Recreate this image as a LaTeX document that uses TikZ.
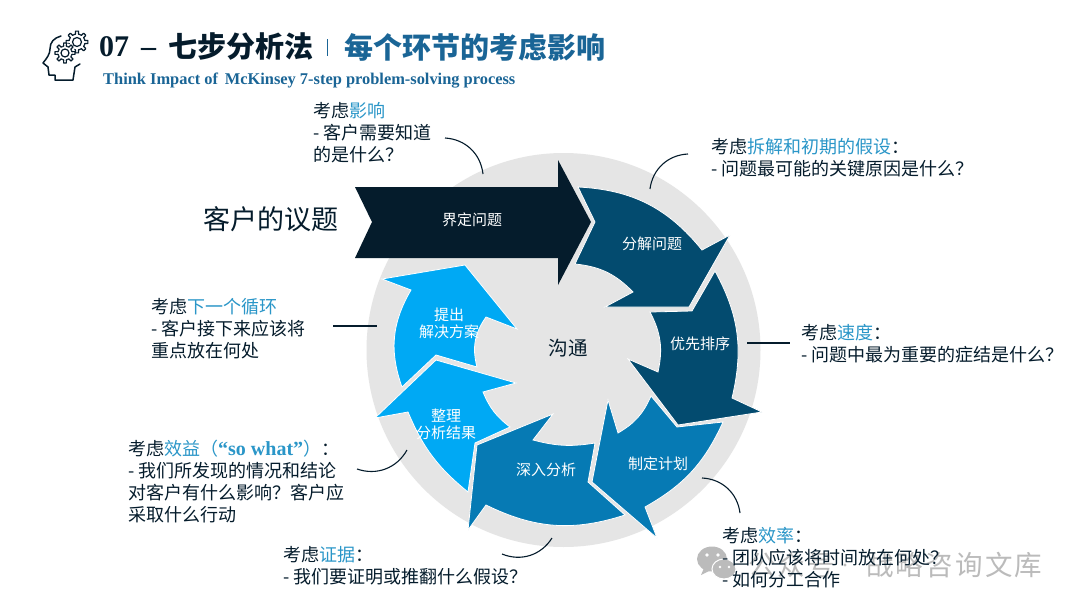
\documentclass[tikz,border=0pt]{standalone}
\usepackage{fontspec}
\setmainfont{Liberation Serif}
\newfontfamily\cjk{Noto Sans CJK SC}
\newfontfamily\markfont[LetterSpace=8]{Noto Sans CJK SC}
\usepackage{xcolor}
\definecolor{deepnavy}{HTML}{051C2C}
\definecolor{navyblue}{HTML}{034B6F}
\definecolor{midblue}{HTML}{067AB4}
\definecolor{skyblue}{HTML}{00A9F4}
\definecolor{ringgray}{HTML}{E5E5E5}
\definecolor{titleblue}{HTML}{1A6596}
\definecolor{hlblue}{HTML}{2A96C8}
\definecolor{markgray}{HTML}{BBBBBB}
\tikzset{
  stepshape/.style={draw=white,line width=.8pt},
  steptext/.style={text=white,font=\cjk\fontsize{15}{17}\selectfont,align=center,inner sep=0pt},
  asktext/.style={anchor=west,align=left,text=deepnavy,inner sep=0pt,font=\cjk\fontsize{18}{22}\selectfont},
  askline/.style={draw=deepnavy,line width=1.1pt},
  iconline/.style={draw=deepnavy,line width=1.5pt,line join=round},
  marktext/.style={anchor=west,text=markgray,inner sep=0pt,font=\markfont\fontsize{27.5}{30}\selectfont},
}
\newcommand{\hl}[1]{\textcolor{hlblue}{#1}}
\begin{document}
\begin{tikzpicture}[x=1pt,y=-1pt]
\useasboundingbox (0,0) rectangle (1080,608);
\fill[white] (0,0) rectangle (1080,608);
\fill[ringgray] (563.5,350) circle (197);
% steps
\draw[stepshape,fill=skyblue] (402,387) to[bend left=25] (411,290) -- (382,279) -- (465,265) -- (517,329) -- (486,317) to[bend right=25] (477,367) -- (436,355) -- cycle;
\draw[stepshape,fill=skyblue] (468,492) to[bend left=14] (408,412) -- (375,418) -- (436,360) -- (516,383) -- (483,392) to[bend right=15] (510,427) -- (475,443) -- cycle;
\draw[stepshape,fill=midblue] (486,505) to[bend right=22] (625,515) -- (588,482) -- (595,443) to[bend left=12] (533,440) -- (553,414) -- (477,445) -- (468,530) -- cycle;
\draw[stepshape,fill=midblue] (645,507) to[bend right=18] (723,422) -- (677,427) -- (651,396) to[bend left=18] (618,433) -- (608,400) -- (592,482) -- (657,538) -- cycle;
\draw[stepshape,fill=navyblue] (715,271) to[bend left=21] (732,398) -- (762,412) -- (678,425) -- (628,359) -- (658,372) to[bend right=20] (650,312) -- (692,311) -- cycle;
\draw[stepshape,fill=navyblue] (578,187) to[bend left=24] (702,250) -- (730,235) -- (689,307) -- (605,307) -- (633,292) to[bend right=20] (575,264) -- (595,222) -- cycle;
\fill[deepnavy] (355,187) -- (558,187) -- (558,160) -- (591,222) -- (558,285) -- (558,258) -- (355,258) -- (372,222) -- cycle;
\node[steptext] (define) at (472,220) {界定问题};
\node[steptext] (split) at (652,244) {分解问题};
\node[steptext] (rank) at (700,344) {优先排序};
\node[steptext] (plan) at (658,464) {制定计划};
\node[steptext] (analyse) at (546,470) {深入分析};
\node[steptext] (sort) at (446,424) {整理\\分析结果};
\node[steptext] (solve) at (449,323) {提出\\解决方案};
\node[text=deepnavy,font=\cjk\fontsize{19.5}{22}\selectfont,inner sep=0pt] (talk) at (568,348) {沟通};
\node[anchor=west,text=deepnavy,font=\cjk\fontsize{27}{30}\selectfont,inner sep=0pt] (issue) at (203,219) {客户的议题};
% icon
\draw[iconline,line cap=round] (61,36) .. controls (54,38) and (50,42) .. (50,49) .. controls (50,54) and (47,58) .. (43,63) -- (48,67) -- (49,75) -- (55,75) -- (55,80) -- (73,80) -- (75,67) -- (80,64);
\begin{scope}[shift={(77,42)}]
\foreach \a in {0,45,...,315}{
\draw[iconline,line width=1.2pt] (\a-22.5:8) -- (\a-11:8) -- (\a-8:11) -- (\a+8:11) -- (\a+11:8) -- (\a+22.5:8);
}
\draw[iconline,line width=1.2pt] (0,0) circle (4.5);
\end{scope}
\begin{scope}[shift={(65,53)}]
\fill[white] (0,0) circle (10);
\foreach \a in {0,45,...,315}{
\draw[iconline,line width=1.2pt] (\a-22.5:7) -- (\a-11:7) -- (\a-8:10) -- (\a+8:10) -- (\a+11:7) -- (\a+22.5:7);
}
\draw[iconline,line width=1.2pt] (0,0) circle (4);
\end{scope}
% title
\node[anchor=west,text=deepnavy,inner sep=0pt,font=\bfseries\fontsize{30}{32}\selectfont] (num) at (99,47) {07\hspace{12pt}–};
\node[anchor=west,text=deepnavy,inner sep=0pt,font=\cjk\bfseries\fontsize{29}{32}\selectfont] (head) at (168,47) {七步分析法};
\draw[titleblue,line width=1pt] (327,39) -- (327,56);
\node[anchor=west,text=titleblue,inner sep=0pt,font=\cjk\bfseries\fontsize{29}{32}\selectfont] (sub) at (344,47) {每个环节的考虑影响};
\node[anchor=west,text=titleblue,inner sep=0pt,font=\bfseries\fontsize{16.4}{18}\selectfont] (eng) at (103,81) {Think Impact of\, McKinsey 7-step problem-solving process};
% mark
\fill[markgray] (712,559) ellipse (15 and 12.5);
\fill[markgray] (704,568) -- (701,575) -- (711,570) -- cycle;
\fill[markgray,draw=white,line width=1pt] (724,569) ellipse (12 and 10);
\fill[white] (707,555) circle (1.8) (718,555) circle (1.8) (720,567) circle (1.4) (729,567) circle (1.4);
\node[marktext] (markA) at (748,565) {公众号};
\node[marktext] (markB) at (866,565) {战略咨询文库};
\fill[markgray] (845,565) circle (1.6);
% texts
\node[asktext] (ask1) at (313,133) {考虑\hl{影响}\\- 客户需要知道\\的是什么？};
\node[asktext] (ask2) at (711,158) {考虑\hl{拆解和初期的假设}：\\- 问题最可能的关键原因是什么？};
\node[asktext] (ask3) at (801,344) {考虑\hl{速度}：\\- 问题中最为重要的症结是什么？};
\node[asktext] (ask4) at (722,558) {考虑\hl{效率}：\\- 团队应该将时间放在何处？\\- 如何分工合作};
\node[asktext] (ask5) at (283,566) {考虑\hl{证据}：\\- 我们要证明或推翻什么假设？};
\node[asktext] (ask6) at (128,482) {考虑\hl{效益（{\rmfamily\bfseries\fontsize{20}{22}\selectfont“so what”}）}：\\- 我们所发现的情况和结论\\对客户有什么影响？客户应\\采取什么行动};
\node[asktext] (ask7) at (151,329) {考虑\hl{下一个循环}\\- 客户接下来应该将\\重点放在何处};
% connectors
\coordinate (c1a) at (445,138);
\coordinate (c1b) at (483,174);
\coordinate (c2a) at (688,154);
\coordinate (c2b) at (650,189);
\coordinate (c3a) at (747,343);
\coordinate (c3b) at (790,343);
\coordinate (c4a) at (702,478);
\coordinate (c4b) at (740,513);
\coordinate (c5a) at (552,538);
\coordinate (c5b) at (502,554);
\coordinate (c6a) at (407,450);
\coordinate (c6b) at (357,469);
\coordinate (c7a) at (333,326);
\coordinate (c7b) at (377,326);
\draw[askline] (c1a) to[bend left=40] (c1b);
\draw[askline] (c2a) to[bend right=40] (c2b);
\draw[askline] (c3a) -- (c3b);
\draw[askline] (c4a) to[bend left=40] (c4b);
\draw[askline] (c5a) to[bend left=40] (c5b);
\draw[askline] (c6a) to[bend left=40] (c6b);
\draw[askline] (c7a) -- (c7b);
\end{tikzpicture}
\end{document}
